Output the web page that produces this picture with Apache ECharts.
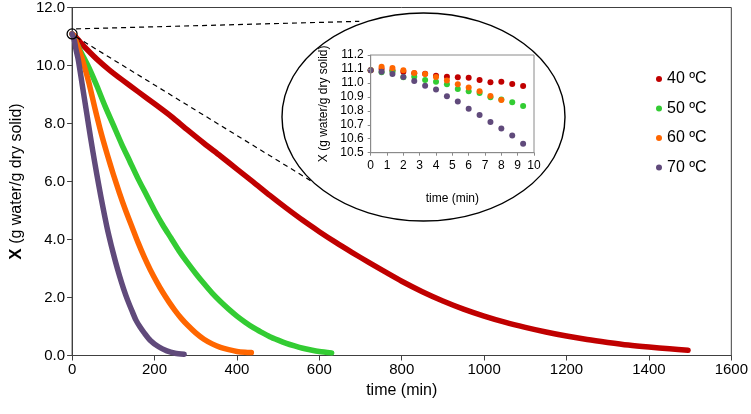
<!DOCTYPE html>
<html><head><meta charset="utf-8">
<script src="https://cdn.jsdelivr.net/npm/echarts@6/dist/echarts.min.js"></script>
<style>html,body{margin:0;padding:0;background:#fff}#c{width:751px;height:414px}</style>
</head><body><div id="c"></div>
<script>
// ---------- data ----------
const seriesNames = ['40 ºC', '50 ºC', '60 ºC', '70 ºC'];
const seriesColors = ['#C00000', '#33CC33', '#FF6600', '#604A7B'];

const xTickMin = 0, xTickMax = 1600, xTickStep = 200;
const yTickMin = 0, yTickMax = 12, yTickStep = 2;

const t40 = [0, 9.33, 20, 40, 60, 90, 120, 160, 200, 240, 280, 320, 360, 400, 440, 480, 520, 560, 600, 640, 680, 720, 760, 800, 850, 900, 950, 1000, 1050, 1100, 1150, 1200, 1250, 1300, 1350, 1400, 1450, 1495];
const x40 = [11.09, 10.98, 10.8, 10.5, 10.22, 9.85, 9.52, 9.1, 8.68, 8.25, 7.78, 7.32, 6.88, 6.43, 5.98, 5.52, 5.08, 4.66, 4.27, 3.9, 3.55, 3.21, 2.88, 2.56, 2.2, 1.88, 1.6, 1.36, 1.15, 0.97, 0.81, 0.67, 0.55, 0.45, 0.36, 0.29, 0.23, 0.18];

const t50 = [0, 9.33, 20, 40, 60, 80, 100, 120, 140, 160, 180, 200, 220, 240, 260, 280, 300, 320, 340, 360, 380, 400, 420, 440, 460, 480, 500, 520, 540, 560, 580, 600, 630];
const x50 = [11.09, 10.83, 10.5, 9.95, 9.3, 8.6, 7.95, 7.3, 6.7, 6.1, 5.55, 5.0, 4.5, 4.05, 3.6, 3.2, 2.83, 2.48, 2.15, 1.86, 1.6, 1.36, 1.15, 0.96, 0.8, 0.65, 0.53, 0.42, 0.33, 0.25, 0.19, 0.14, 0.09];

const t60 = [0, 4, 8, 15, 25, 40, 55, 70, 85, 100, 115, 130, 145, 160, 175, 190, 205, 220, 235, 250, 265, 280, 300, 320, 340, 360, 380, 400, 420, 435];
const x60 = [11.09, 11.05, 10.88, 10.62, 10.2, 9.45, 8.55, 7.7, 6.95, 6.25, 5.6, 5.0, 4.45, 3.9, 3.4, 2.95, 2.55, 2.18, 1.85, 1.55, 1.28, 1.05, 0.78, 0.56, 0.4, 0.28, 0.2, 0.14, 0.11, 0.1];

const t70 = [0, 5, 9.33, 15, 25, 35, 45, 55, 65, 75, 85, 95, 105, 115, 125, 135, 145, 155, 165, 175, 190, 210, 230, 250, 272];
const x70 = [11.09, 10.9, 10.56, 10.2, 9.3, 8.4, 7.5, 6.65, 5.85, 5.1, 4.4, 3.8, 3.25, 2.75, 2.3, 1.9, 1.55, 1.22, 0.98, 0.78, 0.52, 0.3, 0.16, 0.08, 0.04];

// inset (first minutes)
const insetXMin = 0, insetXMax = 10, insetXStep = 1;
const insetYMin = 10.5, insetYMax = 11.2, insetYStep = 0.1;
const insetTime = [0, 0.667, 1.333, 2, 2.667, 3.333, 4, 4.667, 5.333, 6, 6.667, 7.333, 8, 8.667, 9.333];
const inset40 = [11.09, 11.10, 11.09, 11.08, 11.07, 11.065, 11.052, 11.045, 11.04, 11.037, 11.02, 11.004, 11.009, 10.992, 10.978];
const inset50 = [11.09, 11.076, 11.08, 11.04, 11.045, 11.021, 11.009, 10.99, 10.956, 10.94, 10.928, 10.897, 10.882, 10.861, 10.834];
const inset60 = [11.09, 11.116, 11.107, 11.09, 11.071, 11.064, 11.042, 11.018, 10.99, 10.968, 10.94, 10.906, 10.877];
const inset70 = [11.09, 11.08, 11.064, 11.042, 11.014, 10.98, 10.952, 10.904, 10.866, 10.815, 10.77, 10.72, 10.674, 10.624, 10.564];

// ---------- chart ----------
const zip = (a, b) => b.map((v, i) => [a[i], v]);
const mainT = [t40, t50, t60, t70];
const mainX = [x40, x50, x60, x70];
const insetY = [inset40, inset50, inset60, inset70];

const FONT = 'Liberation Sans, Arial, sans-serif';
const chart = echarts.init(document.getElementById('c'), null, {renderer: 'canvas'});

const series = [];
for (let i = 0; i < 4; i++) {
  series.push({
    name: seriesNames[i], type: 'line', xAxisIndex: 0, yAxisIndex: 0,
    data: zip(mainT[i], mainX[i]), showSymbol: false, symbol: 'circle',
    smooth: 0.25,
    lineStyle: {color: seriesColors[i], width: 5.5, cap: 'round', join: 'round', opacity: 1},
    itemStyle: {color: seriesColors[i]}, z: 2 + i, silent: true, animation: false
  });
}
for (let i = 0; i < 4; i++) {
  series.push({
    name: seriesNames[i], type: 'scatter', xAxisIndex: 1, yAxisIndex: 1,
    data: zip(insetTime, insetY[i]), symbol: 'circle', symbolSize: 6,
    itemStyle: {color: seriesColors[i], opacity: 1}, z: 10 + i, silent: true, animation: false
  });
}

const axisCol = '#404040';
const insetCol = '#8a8a8a';
const plain = v => String(v);

chart.setOption({
  animation: false,
  textStyle: {fontFamily: FONT},
  grid: [
    {left: 72, top: 7, right: 18, bottom: 58.5, show: true, borderColor: axisCol, borderWidth: 1, backgroundColor: 'transparent'},
    {left: 370.7, top: 55, width: 163.3, height: 97.7, show: true, borderColor: insetCol, borderWidth: 1, z: 20}
  ],
  legend: {
    data: seriesNames, orient: 'vertical', left: 651, top: 65,
    icon: 'circle', itemWidth: 6, itemHeight: 6, itemGap: 11.5,
    textStyle: {fontSize: 16, color: '#000', fontFamily: FONT, lineHeight: 18},
    selectedMode: false
  },
  xAxis: [
    {type: 'value', gridIndex: 0, min: xTickMin, max: xTickMax, interval: xTickStep,
     name: 'time (min)', nameLocation: 'middle', nameGap: 21,
     nameTextStyle: {fontSize: 16, color: '#000', fontFamily: FONT},
     axisLine: {show: true, lineStyle: {color: axisCol, width: 1}},
     axisTick: {show: true, inside: false, length: 5, lineStyle: {color: axisCol}},
     axisLabel: {fontSize: 15, color: '#000', margin: 7, fontFamily: FONT, formatter: plain},
     splitLine: {show: false}},
    {type: 'value', gridIndex: 1, min: insetXMin, max: insetXMax, interval: insetXStep,
     name: 'time (min)', nameLocation: 'middle', nameGap: 40,
     nameTextStyle: {fontSize: 12, color: '#000', fontFamily: FONT},
     axisLine: {show: true, lineStyle: {color: insetCol, width: 1}},
     axisTick: {show: true, inside: false, length: 3, lineStyle: {color: insetCol}},
     axisLabel: {fontSize: 12, color: '#000', margin: 7, fontFamily: FONT, formatter: plain},
     splitLine: {show: false}, z: 20}
  ],
  yAxis: [
    {type: 'value', gridIndex: 0, min: yTickMin, max: yTickMax, interval: yTickStep,
     name: '{b|X} (g water/g dry solid)', nameLocation: 'middle', nameGap: 42,
     nameTextStyle: {fontSize: 16, color: '#000', fontFamily: FONT,
       rich: {b: {fontSize: 17, fontWeight: 'bold', color: '#000', fontFamily: FONT}}},
     axisLine: {show: true, lineStyle: {color: axisCol, width: 1}},
     axisTick: {show: true, inside: false, length: 5, lineStyle: {color: axisCol}},
     axisLabel: {fontSize: 15, color: '#000', margin: 7, fontFamily: FONT, formatter: v => v.toFixed(1)},
     splitLine: {show: false}},
    {type: 'value', gridIndex: 1, min: insetYMin, max: insetYMax, interval: insetYStep,
     name: 'X (g water/g dry solid)', nameLocation: 'middle', nameGap: 41,
     nameTextStyle: {fontSize: 12, color: '#000', fontFamily: FONT},
     axisLine: {show: true, lineStyle: {color: insetCol, width: 1}},
     axisTick: {show: true, inside: false, length: 3, lineStyle: {color: insetCol}},
     axisLabel: {fontSize: 12, color: '#000', margin: 7, fontFamily: FONT, formatter: v => v.toFixed(1)},
     splitLine: {show: false}, z: 20}
  ],
  series: series
});

// zoom-circle, ellipse and connector lines
const p0 = chart.convertToPixel({gridIndex: 0}, [t70[0], x70[0]]);
const ell = {cx: 423.5, cy: 117, rx: 141.5, ry: 104};
const onEll = deg => {
  const a = deg * Math.PI / 180;
  return [ell.cx + ell.rx * Math.cos(a), ell.cy - ell.ry * Math.sin(a)];
};
const e1 = onEll(117), e2 = onEll(219);
const dash = {stroke: '#000', lineWidth: 1.2, lineDash: [5, 4]};
chart.setOption({
  graphic: [
    {type: 'ellipse', shape: ell, style: {fill: 'none', stroke: '#000', lineWidth: 1.4}, z: 30, silent: true},
    {type: 'circle', shape: {cx: p0[0], cy: p0[1], r: 5}, style: {fill: 'none', stroke: '#000', lineWidth: 1.3}, z: 30, silent: true},
    {type: 'line', shape: {x1: p0[0] + 4, y1: p0[1] - 5, x2: e1[0], y2: e1[1] - 3}, style: dash, z: 30, silent: true},
    {type: 'line', shape: {x1: p0[0] + 4, y1: p0[1] + 3, x2: e2[0], y2: e2[1]}, style: dash, z: 30, silent: true}
  ]
});
</script>
</body></html>
